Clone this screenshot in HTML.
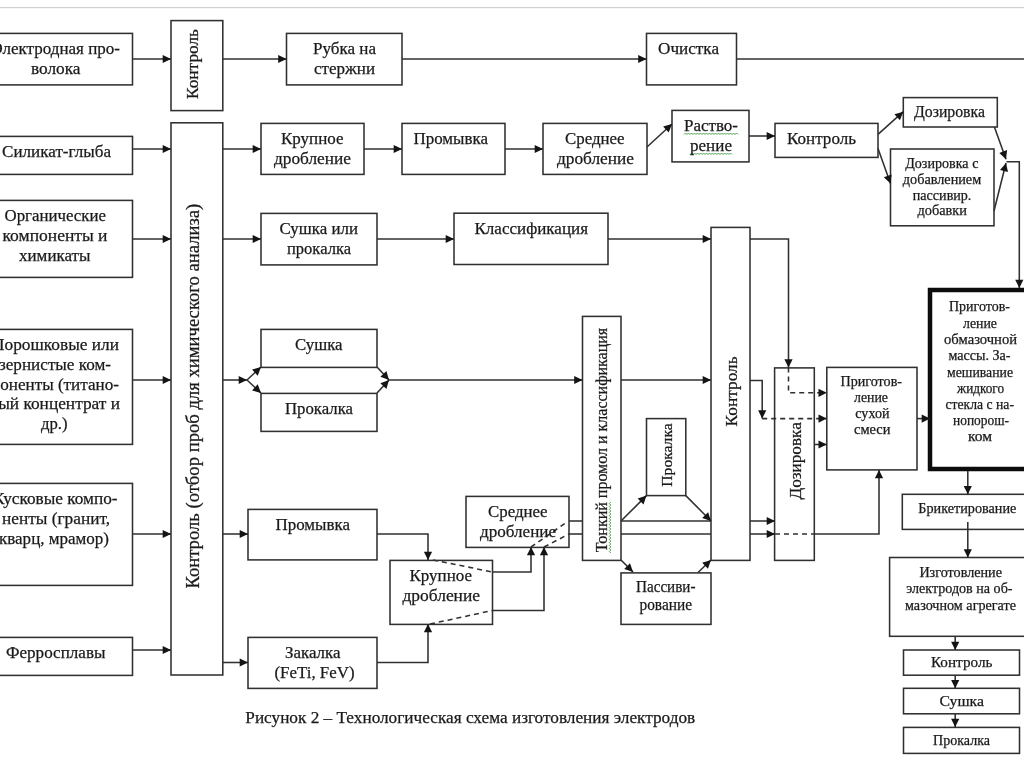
<!DOCTYPE html>
<html><head><meta charset="utf-8"><title>Технологическая схема</title>
<style>
html,body{margin:0;padding:0;background:#fff;overflow:hidden}
svg{display:block;filter:blur(0.45px)}
text{font-family:"Liberation Serif",serif;fill:#1a1a1a;stroke:#1a1a1a;stroke-width:0.25px}
</style></head>
<body>
<svg width="1024" height="767" viewBox="0 0 1024 767">
<rect width="1024" height="767" fill="#fff"/>
<g>
<rect x="0" y="7" width="1024" height="1.2" fill="#cfcfcf"/>
<rect x="-21" y="33.4" width="153.5" height="51.50000000000001" fill="#fff" stroke="#303030" stroke-width="1.55"/>
<rect x="171" y="20.6" width="51.80000000000001" height="90.0" fill="#fff" stroke="#303030" stroke-width="1.55"/>
<rect x="286.5" y="33.4" width="115.5" height="51.50000000000001" fill="#fff" stroke="#303030" stroke-width="1.55"/>
<rect x="646.5" y="33.4" width="90.0" height="51.50000000000001" fill="#fff" stroke="#303030" stroke-width="1.55"/>
<rect x="-21" y="136.4" width="153.5" height="38.0" fill="#fff" stroke="#303030" stroke-width="1.55"/>
<rect x="171" y="122.8" width="51.80000000000001" height="552.2" fill="#fff" stroke="#303030" stroke-width="1.55"/>
<rect x="261" y="123.4" width="103" height="51.0" fill="#fff" stroke="#303030" stroke-width="1.55"/>
<rect x="402" y="123.4" width="103" height="51.0" fill="#fff" stroke="#303030" stroke-width="1.55"/>
<rect x="543" y="123.4" width="104" height="51.0" fill="#fff" stroke="#303030" stroke-width="1.55"/>
<rect x="672" y="110.4" width="77" height="51.5" fill="#fff" stroke="#303030" stroke-width="1.55"/>
<rect x="775" y="123.4" width="103" height="34.0" fill="#fff" stroke="#303030" stroke-width="1.55"/>
<rect x="903.3" y="97.6" width="94.0" height="29.400000000000006" fill="#fff" stroke="#303030" stroke-width="1.55"/>
<rect x="890.5" y="149" width="103.5" height="76.80000000000001" fill="#fff" stroke="#303030" stroke-width="1.55"/>
<rect x="-21" y="200.4" width="153.5" height="76.99999999999997" fill="#fff" stroke="#303030" stroke-width="1.55"/>
<rect x="261" y="213.4" width="116" height="51.49999999999997" fill="#fff" stroke="#303030" stroke-width="1.55"/>
<rect x="454" y="213.2" width="154" height="51.30000000000001" fill="#fff" stroke="#303030" stroke-width="1.55"/>
<rect x="-21" y="329.4" width="153.5" height="115.0" fill="#fff" stroke="#303030" stroke-width="1.55"/>
<rect x="261" y="329.4" width="116" height="38.0" fill="#fff" stroke="#303030" stroke-width="1.55"/>
<rect x="261" y="393.4" width="116" height="38.0" fill="#fff" stroke="#303030" stroke-width="1.55"/>
<rect x="582.5" y="316.4" width="38.5" height="244.0" fill="#fff" stroke="#303030" stroke-width="1.55"/>
<rect x="646.5" y="418.6" width="39.299999999999955" height="77.0" fill="#fff" stroke="#303030" stroke-width="1.55"/>
<rect x="711" y="227.4" width="39" height="333.0" fill="#fff" stroke="#303030" stroke-width="1.55"/>
<rect x="774.6" y="367.9" width="39.69999999999993" height="192.5" fill="#fff" stroke="#303030" stroke-width="1.55"/>
<rect x="826.8" y="367.4" width="90.20000000000005" height="102.5" fill="#fff" stroke="#303030" stroke-width="1.55"/>
<rect x="930" y="290" width="114" height="179" fill="#fff" stroke="#0c0c0c" stroke-width="4.5"/>
<rect x="-21" y="483.4" width="153.5" height="102.0" fill="#fff" stroke="#303030" stroke-width="1.55"/>
<rect x="248" y="509.4" width="129" height="50.5" fill="#fff" stroke="#303030" stroke-width="1.55"/>
<rect x="390" y="560.4" width="102.5" height="64.0" fill="#fff" stroke="#303030" stroke-width="1.55"/>
<rect x="466" y="496.4" width="103" height="51.0" fill="#fff" stroke="#303030" stroke-width="1.55"/>
<rect x="621" y="572.9" width="90" height="51.5" fill="#fff" stroke="#303030" stroke-width="1.55"/>
<rect x="-21" y="637.4" width="153.5" height="38.0" fill="#fff" stroke="#303030" stroke-width="1.55"/>
<rect x="248" y="637.4" width="129" height="51.0" fill="#fff" stroke="#303030" stroke-width="1.55"/>
<rect x="902.3" y="494.3" width="141.70000000000005" height="35.099999999999966" fill="#fff" stroke="#303030" stroke-width="1.55"/>
<rect x="889.6" y="557.5" width="154.39999999999998" height="78.79999999999995" fill="#fff" stroke="#303030" stroke-width="1.55"/>
<rect x="903.5" y="650" width="116.0" height="25.200000000000045" fill="#fff" stroke="#303030" stroke-width="1.55"/>
<rect x="903.5" y="688.3" width="116.0" height="25.5" fill="#fff" stroke="#303030" stroke-width="1.55"/>
<rect x="903.5" y="727.4" width="116.0" height="26.0" fill="#fff" stroke="#303030" stroke-width="1.55"/>
<path d="M132.5,59 L171,59" fill="none" stroke="#303030" stroke-width="1.55"/>
<polygon points="171.0,59.0 162.7,63.1 162.7,54.9" fill="#141414"/>
<path d="M222.8,59 L286.5,59" fill="none" stroke="#303030" stroke-width="1.55"/>
<polygon points="286.5,59.0 278.2,63.1 278.2,54.9" fill="#141414"/>
<path d="M402,59 L646.5,59" fill="none" stroke="#303030" stroke-width="1.55"/>
<polygon points="646.5,59.0 638.2,63.1 638.2,54.9" fill="#141414"/>
<path d="M736.5,59 L1024,59" fill="none" stroke="#303030" stroke-width="1.55"/>
<path d="M132.5,149 L171,149" fill="none" stroke="#303030" stroke-width="1.55"/>
<polygon points="171.0,149.0 162.7,153.1 162.7,144.9" fill="#141414"/>
<path d="M222.8,149 L261,149" fill="none" stroke="#303030" stroke-width="1.55"/>
<polygon points="261.0,149.0 252.7,153.1 252.7,144.9" fill="#141414"/>
<path d="M364,149 L402,149" fill="none" stroke="#303030" stroke-width="1.55"/>
<polygon points="402.0,149.0 393.7,153.1 393.7,144.9" fill="#141414"/>
<path d="M505,149 L543,149" fill="none" stroke="#303030" stroke-width="1.55"/>
<polygon points="543.0,149.0 534.7,153.1 534.7,144.9" fill="#141414"/>
<path d="M647,147 L672,124" fill="none" stroke="#303030" stroke-width="1.55"/>
<polygon points="672.0,124.0 668.7,132.6 663.1,126.6" fill="#141414"/>
<path d="M749,136 L775,136" fill="none" stroke="#303030" stroke-width="1.55"/>
<polygon points="775.0,136.0 766.7,140.1 766.7,131.9" fill="#141414"/>
<path d="M878,134.4 L903.3,111.7" fill="none" stroke="#303030" stroke-width="1.55"/>
<polygon points="903.3,111.7 899.9,120.3 894.4,114.2" fill="#141414"/>
<path d="M878,148.6 L890.5,183.6" fill="none" stroke="#303030" stroke-width="1.55"/>
<polygon points="890.5,183.6 883.8,177.2 891.6,174.4" fill="#141414"/>
<path d="M994.4,127 L1006,159.3" fill="none" stroke="#303030" stroke-width="1.55"/>
<polygon points="1006.0,159.3 999.3,152.9 1007.1,150.1" fill="#141414"/>
<path d="M994,211 L1006,163" fill="none" stroke="#303030" stroke-width="1.55"/>
<polygon points="1006.0,163.0 1008.0,172.0 1000.0,170.1" fill="#141414"/>
<path d="M1006.5,161.7 L1019.3,161.7 L1019.3,288" fill="none" stroke="#303030" stroke-width="1.55"/>
<polygon points="1019.3,288.0 1015.2,279.7 1023.4,279.7" fill="#141414"/>
<path d="M132.5,239 L171,239" fill="none" stroke="#303030" stroke-width="1.55"/>
<polygon points="171.0,239.0 162.7,243.1 162.7,234.9" fill="#141414"/>
<path d="M222.8,239 L261,239" fill="none" stroke="#303030" stroke-width="1.55"/>
<polygon points="261.0,239.0 252.7,243.1 252.7,234.9" fill="#141414"/>
<path d="M377,239 L454,239" fill="none" stroke="#303030" stroke-width="1.55"/>
<polygon points="454.0,239.0 445.7,243.1 445.7,234.9" fill="#141414"/>
<path d="M608,239 L711,239" fill="none" stroke="#303030" stroke-width="1.55"/>
<polygon points="711.0,239.0 702.7,243.1 702.7,234.9" fill="#141414"/>
<path d="M750,239 L788.5,239 L788.5,367.5" fill="none" stroke="#303030" stroke-width="1.55"/>
<polygon points="788.5,367.5 784.4,359.2 792.6,359.2" fill="#141414"/>
<path d="M132.5,380 L171,380" fill="none" stroke="#303030" stroke-width="1.55"/>
<polygon points="171.0,380.0 162.7,384.1 162.7,375.9" fill="#141414"/>
<path d="M222.8,380 L247,380" fill="none" stroke="#303030" stroke-width="1.55"/>
<polygon points="247.0,380.0 238.7,384.1 238.7,375.9" fill="#141414"/>
<path d="M247,380 L261,367" fill="none" stroke="#303030" stroke-width="1.55"/>
<polygon points="261.0,367.0 257.7,375.7 252.1,369.6" fill="#141414"/>
<path d="M247,380 L261,393" fill="none" stroke="#303030" stroke-width="1.55"/>
<polygon points="261.0,393.0 252.1,390.4 257.7,384.3" fill="#141414"/>
<path d="M377,367 L389,380" fill="none" stroke="#303030" stroke-width="1.55"/>
<polygon points="389.0,380.0 380.4,376.7 386.4,371.1" fill="#141414"/>
<path d="M377,393 L389,380" fill="none" stroke="#303030" stroke-width="1.55"/>
<polygon points="389.0,380.0 386.4,388.9 380.4,383.3" fill="#141414"/>
<path d="M389,380 L582.5,380" fill="none" stroke="#303030" stroke-width="1.55"/>
<polygon points="582.5,380.0 574.2,384.1 574.2,375.9" fill="#141414"/>
<path d="M621,380 L711,380" fill="none" stroke="#303030" stroke-width="1.55"/>
<polygon points="711.0,380.0 702.7,384.1 702.7,375.9" fill="#141414"/>
<path d="M750,380.4 L762.2,380.4 L762.2,418.6" fill="none" stroke="#303030" stroke-width="1.55"/>
<polygon points="762.2,418.6 758.1,410.3 766.3,410.3" fill="#141414"/>
<path d="M762.2,418.6 L826.8,418.6" fill="none" stroke="#303030" stroke-width="1.55" stroke-dasharray="5 4"/>
<polygon points="826.8,418.6 818.5,422.7 818.5,414.5" fill="#141414"/>
<path d="M788.5,367.5 L788.5,392.8 L826.8,392.8" fill="none" stroke="#303030" stroke-width="1.55" stroke-dasharray="5 4"/>
<polygon points="826.8,392.8 818.5,396.9 818.5,388.7" fill="#141414"/>
<path d="M814.3,444.5 L826.8,444.5" fill="none" stroke="#303030" stroke-width="1.55"/>
<polygon points="826.8,444.5 818.5,448.6 818.5,440.4" fill="#141414"/>
<path d="M917,418.6 L930,418.6" fill="none" stroke="#303030" stroke-width="1.55"/>
<polygon points="930.0,418.6 921.7,422.7 921.7,414.5" fill="#141414"/>
<path d="M132.5,534 L171,534" fill="none" stroke="#303030" stroke-width="1.55"/>
<polygon points="171.0,534.0 162.7,538.1 162.7,529.9" fill="#141414"/>
<path d="M222.8,534 L248,534" fill="none" stroke="#303030" stroke-width="1.55"/>
<polygon points="248.0,534.0 239.7,538.1 239.7,529.9" fill="#141414"/>
<path d="M377,534 L428,534 L428,560" fill="none" stroke="#303030" stroke-width="1.55"/>
<polygon points="428.0,560.0 423.9,551.7 432.1,551.7" fill="#141414"/>
<path d="M132.5,650 L171,650" fill="none" stroke="#303030" stroke-width="1.55"/>
<polygon points="171.0,650.0 162.7,654.1 162.7,645.9" fill="#141414"/>
<path d="M222.8,662.5 L248,662.5" fill="none" stroke="#303030" stroke-width="1.55"/>
<polygon points="248.0,662.5 239.7,666.6 239.7,658.4" fill="#141414"/>
<path d="M377,662.5 L428,662.5 L428,624" fill="none" stroke="#303030" stroke-width="1.55"/>
<polygon points="428.0,624.0 432.1,632.3 423.9,632.3" fill="#141414"/>
<path d="M433,560 L492.5,572" fill="none" stroke="#303030" stroke-width="1.55" stroke-dasharray="5 4"/>
<path d="M430,624 L492.5,610.5" fill="none" stroke="#303030" stroke-width="1.55" stroke-dasharray="5 4"/>
<path d="M492.5,572 L531,572 L531,547" fill="none" stroke="#303030" stroke-width="1.55"/>
<polygon points="531.0,547.0 535.1,555.3 526.9,555.3" fill="#141414"/>
<path d="M492.5,610.5 L544,610.5 L544,547" fill="none" stroke="#303030" stroke-width="1.55"/>
<polygon points="544.0,547.0 548.1,555.3 539.9,555.3" fill="#141414"/>
<path d="M531,547 L567,522" fill="none" stroke="#303030" stroke-width="1.55" stroke-dasharray="5 4"/>
<path d="M544,547 L569,534" fill="none" stroke="#303030" stroke-width="1.55" stroke-dasharray="5 4"/>
<path d="M569,521 L582.5,521" fill="none" stroke="#303030" stroke-width="1.55"/>
<path d="M569,534 L582.5,534" fill="none" stroke="#303030" stroke-width="1.55"/>
<path d="M621,521 L711,521" fill="none" stroke="#303030" stroke-width="1.55"/>
<path d="M621,534 L711,534" fill="none" stroke="#303030" stroke-width="1.55"/>
<path d="M621,521 L646.5,495.6" fill="none" stroke="#303030" stroke-width="1.55"/>
<polygon points="646.5,495.6 643.5,504.4 637.7,498.6" fill="#141414"/>
<path d="M685.8,495.6 L711,521" fill="none" stroke="#303030" stroke-width="1.55"/>
<polygon points="711.0,521.0 702.2,518.0 708.1,512.2" fill="#141414"/>
<path d="M621,560 L633,572" fill="none" stroke="#303030" stroke-width="1.55"/>
<polygon points="633.0,572.0 624.2,569.0 630.0,563.2" fill="#141414"/>
<path d="M698,572.5 L711,560" fill="none" stroke="#303030" stroke-width="1.55"/>
<polygon points="711.0,560.0 707.9,568.7 702.2,562.8" fill="#141414"/>
<path d="M750,521 L775,521" fill="none" stroke="#303030" stroke-width="1.55"/>
<polygon points="775.0,521.0 766.7,525.1 766.7,516.9" fill="#141414"/>
<path d="M750,534 L775,534" fill="none" stroke="#303030" stroke-width="1.55"/>
<polygon points="775.0,534.0 766.7,538.1 766.7,529.9" fill="#141414"/>
<path d="M775,534 L814,534" fill="none" stroke="#303030" stroke-width="1.55" stroke-dasharray="5 4"/>
<path d="M814,534 L879,534 L879,470" fill="none" stroke="#303030" stroke-width="1.55"/>
<polygon points="879.0,470.0 883.1,478.3 874.9,478.3" fill="#141414"/>
<path d="M967.8,471 L967.8,494.3" fill="none" stroke="#303030" stroke-width="1.55"/>
<polygon points="967.8,494.3 963.7,486.0 971.9,486.0" fill="#141414"/>
<path d="M967.8,522 L967.8,557.5" fill="none" stroke="#303030" stroke-width="1.55"/>
<polygon points="967.8,557.5 963.7,549.2 971.9,549.2" fill="#141414"/>
<path d="M955.2,636.5 L955.2,650" fill="none" stroke="#303030" stroke-width="1.55"/>
<polygon points="955.2,650.0 951.1,641.7 959.3,641.7" fill="#141414"/>
<path d="M955.2,675 L955.2,688.3" fill="none" stroke="#303030" stroke-width="1.55"/>
<polygon points="955.2,688.3 951.1,680.0 959.3,680.0" fill="#141414"/>
<path d="M955.2,714 L955.2,727" fill="none" stroke="#303030" stroke-width="1.55"/>
<polygon points="955.2,727.0 951.1,718.7 959.3,718.7" fill="#141414"/>
<path d="M684,134.5 l1.5,-1.5 l1.5,1.5 l1.5,-1.5 l1.5,1.5 l1.5,-1.5 l1.5,1.5 l1.5,-1.5 l1.5,1.5 l1.5,-1.5 l1.5,1.5 l1.5,-1.5 l1.5,1.5 l1.5,-1.5 l1.5,1.5 l1.5,-1.5 l1.5,1.5 l1.5,-1.5 l1.5,1.5 l1.5,-1.5 l1.5,1.5 l1.5,-1.5 l1.5,1.5 l1.5,-1.5 l1.5,1.5 l1.5,-1.5 l1.5,1.5 l1.5,-1.5 l1.5,1.5 l1.5,-1.5 l1.5,1.5 l1.5,-1.5 l1.5,1.5 l1.5,-1.5 l1.5,1.5 l1.5,-1.5 l1.5,1.5" fill="none" stroke="#3a9a3a" stroke-width="0.9"/>
<path d="M690,154.5 l1.5,-1.5 l1.5,1.5 l1.5,-1.5 l1.5,1.5 l1.5,-1.5 l1.5,1.5 l1.5,-1.5 l1.5,1.5 l1.5,-1.5 l1.5,1.5 l1.5,-1.5 l1.5,1.5 l1.5,-1.5 l1.5,1.5 l1.5,-1.5 l1.5,1.5 l1.5,-1.5 l1.5,1.5 l1.5,-1.5 l1.5,1.5 l1.5,-1.5 l1.5,1.5 l1.5,-1.5 l1.5,1.5 l1.5,-1.5 l1.5,1.5 l1.5,-1.5 l1.5,1.5" fill="none" stroke="#3a9a3a" stroke-width="0.9"/>
<path d="M610.8,502 l-1.5,1.5 l1.5,1.5 l-1.5,1.5 l1.5,1.5 l-1.5,1.5 l1.5,1.5 l-1.5,1.5 l1.5,1.5 l-1.5,1.5 l1.5,1.5 l-1.5,1.5 l1.5,1.5 l-1.5,1.5 l1.5,1.5 l-1.5,1.5 l1.5,1.5 l-1.5,1.5 l1.5,1.5 l-1.5,1.5 l1.5,1.5 l-1.5,1.5 l1.5,1.5 l-1.5,1.5 l1.5,1.5 l-1.5,1.5 l1.5,1.5 l-1.5,1.5 l1.5,1.5 l-1.5,1.5 l1.5,1.5 l-1.5,1.5 l1.5,1.5 l-1.5,1.5 l1.5,1.5" fill="none" stroke="#3a9a3a" stroke-width="0.9"/>
</g>
<g>
<text x="-8.5" y="54.4" font-size="17" textLength="128.5" lengthAdjust="spacingAndGlyphs">Электродная про-</text>
<text x="31" y="74.2" font-size="17" textLength="49.5" lengthAdjust="spacingAndGlyphs">волока</text>
<text x="2" y="157" font-size="17" textLength="109.0" lengthAdjust="spacingAndGlyphs">Силикат-глыба</text>
<text x="4.5" y="221" font-size="17" textLength="101.5" lengthAdjust="spacingAndGlyphs">Органические</text>
<text x="2.5" y="240.8" font-size="17" textLength="105.0" lengthAdjust="spacingAndGlyphs">компоненты и</text>
<text x="19" y="260.5" font-size="17" textLength="71.5" lengthAdjust="spacingAndGlyphs">химикаты</text>
<text x="-8" y="350" font-size="17" textLength="127.0" lengthAdjust="spacingAndGlyphs">Порошковые или</text>
<text x="-1" y="369.8" font-size="17" textLength="112.0" lengthAdjust="spacingAndGlyphs">зернистые ком-</text>
<text x="-9" y="389.5" font-size="17" textLength="128.0" lengthAdjust="spacingAndGlyphs">поненты (титано-</text>
<text x="-10" y="409.3" font-size="17" textLength="130.0" lengthAdjust="spacingAndGlyphs">вый концентрат и</text>
<text x="41" y="429" font-size="17" textLength="26.5" lengthAdjust="spacingAndGlyphs">др.)</text>
<text x="-7" y="504.3" font-size="17" textLength="124.5" lengthAdjust="spacingAndGlyphs">Кусковые компо-</text>
<text x="2" y="523.9" font-size="17" textLength="108.0" lengthAdjust="spacingAndGlyphs">ненты (гранит,</text>
<text x="-1" y="543.5" font-size="17" textLength="110.0" lengthAdjust="spacingAndGlyphs">кварц, мрамор)</text>
<text x="6" y="657.7" font-size="17" textLength="99.5" lengthAdjust="spacingAndGlyphs">Ферросплавы</text>
<text x="313" y="54.3" font-size="17" textLength="63.0" lengthAdjust="spacingAndGlyphs">Рубка на</text>
<text x="314" y="74.1" font-size="17" textLength="61.0" lengthAdjust="spacingAndGlyphs">стержни</text>
<text x="281" y="144" font-size="17" textLength="62.5" lengthAdjust="spacingAndGlyphs">Крупное</text>
<text x="274" y="163.8" font-size="17" textLength="77.0" lengthAdjust="spacingAndGlyphs">дробление</text>
<text x="413.5" y="144" font-size="17" textLength="74.5" lengthAdjust="spacingAndGlyphs">Промывка</text>
<text x="658" y="54.3" font-size="17" textLength="61.0" lengthAdjust="spacingAndGlyphs">Очистка</text>
<text x="565" y="144" font-size="17" textLength="59.5" lengthAdjust="spacingAndGlyphs">Среднее</text>
<text x="557" y="163.8" font-size="17" textLength="77.0" lengthAdjust="spacingAndGlyphs">дробление</text>
<text x="684" y="131" font-size="17" textLength="54.0" lengthAdjust="spacingAndGlyphs">Раство-</text>
<text x="690" y="150.8" font-size="17" textLength="42.0" lengthAdjust="spacingAndGlyphs">рение</text>
<text x="787" y="144.3" font-size="17" textLength="69.0" lengthAdjust="spacingAndGlyphs">Контроль</text>
<text x="914" y="116.5" font-size="16" textLength="71.0" lengthAdjust="spacingAndGlyphs">Дозировка</text>
<text x="905.2" y="168" font-size="14.5" textLength="73.2" lengthAdjust="spacingAndGlyphs">Дозировка с</text>
<text x="902.8" y="184" font-size="14.5" textLength="78.4" lengthAdjust="spacingAndGlyphs">добавлением</text>
<text x="912.8" y="199.7" font-size="14.5" textLength="58.6" lengthAdjust="spacingAndGlyphs">пассивир.</text>
<text x="917.5" y="215.3" font-size="14.5" textLength="49.5" lengthAdjust="spacingAndGlyphs">добавки</text>
<text x="279.5" y="234" font-size="17" textLength="78.5" lengthAdjust="spacingAndGlyphs">Сушка или</text>
<text x="287" y="253.8" font-size="17" textLength="64.0" lengthAdjust="spacingAndGlyphs">прокалка</text>
<text x="474.5" y="233.9" font-size="17" textLength="113.5" lengthAdjust="spacingAndGlyphs">Классификация</text>
<text x="295" y="350" font-size="17" textLength="47.5" lengthAdjust="spacingAndGlyphs">Сушка</text>
<text x="285" y="414" font-size="17" textLength="68.0" lengthAdjust="spacingAndGlyphs">Прокалка</text>
<text x="275.5" y="530" font-size="17" textLength="74.5" lengthAdjust="spacingAndGlyphs">Промывка</text>
<text x="285" y="657.8" font-size="17" textLength="55.5" lengthAdjust="spacingAndGlyphs">Закалка</text>
<text x="274.5" y="677.6" font-size="17" textLength="80.0" lengthAdjust="spacingAndGlyphs">(FeTi, FeV)</text>
<text x="245.3" y="722.9" font-size="17" textLength="449.9" lengthAdjust="spacingAndGlyphs">Рисунок 2 – Технологическая схема изготовления электродов</text>
<text x="409.5" y="581" font-size="17" textLength="62.5" lengthAdjust="spacingAndGlyphs">Крупное</text>
<text x="402.5" y="600.8" font-size="17" textLength="77.5" lengthAdjust="spacingAndGlyphs">дробление</text>
<text x="488" y="517" font-size="17" textLength="59.5" lengthAdjust="spacingAndGlyphs">Среднее</text>
<text x="480" y="536.8" font-size="17" textLength="76.0" lengthAdjust="spacingAndGlyphs">дробление</text>
<text x="636" y="592" font-size="16" textLength="59.5" lengthAdjust="spacingAndGlyphs">Пассиви-</text>
<text x="639.5" y="610" font-size="16" textLength="52.5" lengthAdjust="spacingAndGlyphs">рование</text>
<text x="840.5" y="386" font-size="14" textLength="61.5" lengthAdjust="spacingAndGlyphs">Приготов-</text>
<text x="854" y="402" font-size="14" textLength="34.0" lengthAdjust="spacingAndGlyphs">ление</text>
<text x="855.3" y="418" font-size="14" textLength="34.2" lengthAdjust="spacingAndGlyphs">сухой</text>
<text x="854" y="434" font-size="14" textLength="36.5" lengthAdjust="spacingAndGlyphs">смеси</text>
<text x="949" y="310.6" font-size="14" textLength="61.0" lengthAdjust="spacingAndGlyphs">Приготов-</text>
<text x="963" y="327.6" font-size="14" textLength="34.0" lengthAdjust="spacingAndGlyphs">ление</text>
<text x="944" y="343.6" font-size="14" textLength="73.0" lengthAdjust="spacingAndGlyphs">обмазочной</text>
<text x="948.5" y="359.6" font-size="14" textLength="62.0" lengthAdjust="spacingAndGlyphs">массы. За-</text>
<text x="947" y="376.6" font-size="14" textLength="66.0" lengthAdjust="spacingAndGlyphs">мешивание</text>
<text x="957" y="392.6" font-size="14" textLength="47.0" lengthAdjust="spacingAndGlyphs">жидкого</text>
<text x="945.5" y="408.6" font-size="14" textLength="68.5" lengthAdjust="spacingAndGlyphs">стекла с на-</text>
<text x="953" y="424.6" font-size="14" textLength="56.0" lengthAdjust="spacingAndGlyphs">нопорош-</text>
<text x="968" y="441.1" font-size="14" textLength="24.0" lengthAdjust="spacingAndGlyphs">ком</text>
<text x="918.3" y="512.6" font-size="14" textLength="98.0" lengthAdjust="spacingAndGlyphs">Брикетирование</text>
<text x="919.4" y="576.6" font-size="14" textLength="82.6" lengthAdjust="spacingAndGlyphs">Изготовление</text>
<text x="906.2" y="593.4" font-size="14" textLength="106.3" lengthAdjust="spacingAndGlyphs">электродов на об-</text>
<text x="905" y="609.5" font-size="14" textLength="111.0" lengthAdjust="spacingAndGlyphs">мазочном агрегате</text>
<text x="931" y="667.3" font-size="15" textLength="61.4" lengthAdjust="spacingAndGlyphs">Контроль</text>
<text x="939.5" y="705.8" font-size="15" textLength="44.5" lengthAdjust="spacingAndGlyphs">Сушка</text>
<text x="933" y="744.5" font-size="14.5" textLength="57.0" lengthAdjust="spacingAndGlyphs">Прокалка</text>
<text transform="translate(198.3,99) rotate(-90)" x="0" y="0" font-size="17.5" textLength="70.0" lengthAdjust="spacingAndGlyphs">Контроль</text>
<text transform="translate(199.3,588.6) rotate(-90)" x="0" y="0" font-size="18" textLength="384.9" lengthAdjust="spacingAndGlyphs">Контроль (отбор проб для химического анализа)</text>
<text transform="translate(607.4,552.2) rotate(-90)" x="0" y="0" font-size="16" textLength="224.4" lengthAdjust="spacingAndGlyphs">Тонкий промол и классификация</text>
<text transform="translate(672,486.7) rotate(-90)" x="0" y="0" font-size="15.5" textLength="63.4" lengthAdjust="spacingAndGlyphs">Прокалка</text>
<text transform="translate(736.9,426.4) rotate(-90)" x="0" y="0" font-size="17.5" textLength="70.0" lengthAdjust="spacingAndGlyphs">Контроль</text>
<text transform="translate(801.4,499.6) rotate(-90)" x="0" y="0" font-size="17.5" textLength="77.4" lengthAdjust="spacingAndGlyphs">Дозировка</text>
</g>
</svg>
</body></html>
